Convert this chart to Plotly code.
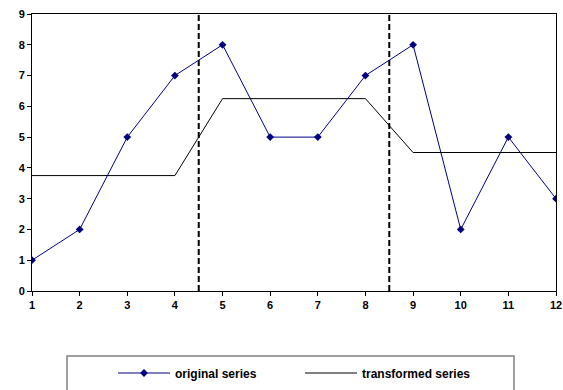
import plotly.graph_objects as go

x_vals = [1, 2, 3, 4, 5, 6, 7, 8, 9, 10, 11, 12]
original = [1, 2, 5, 7, 8, 5, 5, 7, 8, 2, 5, 3]
transformed = [3.75, 3.75, 3.75, 3.75, 6.25, 6.25, 6.25, 6.25, 4.5, 4.5, 4.5, 4.5]
split_positions = [4.5, 8.5]
y_ticks = list(range(0, 10))

font_family = "Arial, Liberation Sans, sans-serif"

L, R, T, B = 32, 7, 14, 99
W, H = 563, 390
PW, PH = W - L - R, H - T - B


def px_x(p):
    return (p - L) / PW


def px_y(p):
    return (H - B - p) / PH


fig = go.Figure()
fig.add_trace(go.Scatter(
    x=x_vals, y=original, mode="lines+markers", name="original series",
    line=dict(color="#000080", width=1),
    marker=dict(symbol="diamond", size=6, color="#000080"),
))
fig.add_trace(go.Scatter(
    x=x_vals, y=transformed, mode="lines", name="transformed series",
    line=dict(color="black", width=1),
))

for sp in split_positions:
    fig.add_shape(type="line", xref="x", yref="y", x0=sp, x1=sp, y0=0, y1=9,
                  line=dict(color="black", width=2, dash="6px,3px"))

# legend frame
fig.add_shape(type="rect", xref="paper", yref="paper",
              x0=px_x(67), x1=px_x(514), y0=px_y(395), y1=px_y(356),
              line=dict(color="#808080", width=1.5), fillcolor="rgba(0,0,0,0)")

fig.update_layout(
    width=W, height=H,
    margin=dict(l=L, r=R, t=T, b=B, autoexpand=False),
    paper_bgcolor="white", plot_bgcolor="white",
    font=dict(family=font_family, size=11, color="black", weight="bold"),
    showlegend=True,
    legend=dict(orientation="h", x=px_x(113), xanchor="left",
                y=px_y(373), yanchor="middle",
                itemwidth=52,
                entrywidth=120, entrywidthmode="pixels",
                bgcolor="rgba(0,0,0,0)", borderwidth=0,
                font=dict(family=font_family, size=12, color="black", weight="bold")),
    xaxis=dict(range=[1, 12], tickmode="array", tickvals=x_vals, ticks="outside",
               ticklen=4, tickcolor="black", showline=True, linecolor="black",
               linewidth=1, mirror=True, showgrid=False, zeroline=False,
               automargin=False,
               tickfont=dict(family=font_family, size=11, color="black", weight="bold")),
    yaxis=dict(range=[0, 9], tickmode="array", tickvals=y_ticks, ticks="outside",
               ticklen=4, tickcolor="black", showline=True, linecolor="black",
               linewidth=1, mirror=True, showgrid=False, zeroline=False,
               automargin=False,
               tickfont=dict(family=font_family, size=11, color="black", weight="bold")),
)

fig.write_html("out.html",
               config={"displayModeBar": False},
               post_script="document.body.style.margin='0';document.body.style.overflow='hidden';")
